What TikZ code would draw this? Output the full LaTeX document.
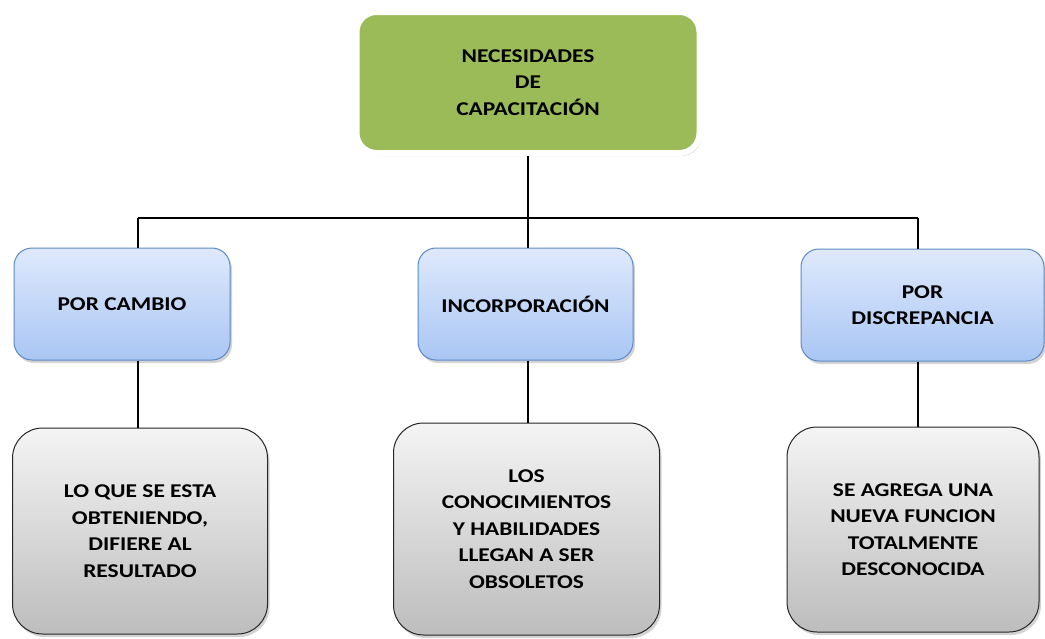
\documentclass[tikz,border=0pt]{standalone}
\usepackage{fontspec}
\setmainfont{Carlito}[FakeStretch=1.2]
\usetikzlibrary{shadows,positioning}

\definecolor{topgreen}{HTML}{9BBB59}
\definecolor{bluetop}{HTML}{DFE9FC}
\definecolor{bluebot}{HTML}{A9C6F4}
\definecolor{blueline}{HTML}{5A8AC6}
\definecolor{greytop}{HTML}{F4F4F4}
\definecolor{greybot}{HTML}{BDBDBD}

\tikzset{
  txt/.style={font=\bfseries\fontsize{19.5}{26.5}\selectfont, align=center, text=black},
  head/.style={txt, rectangle, rounded corners=20pt, fill=topgreen,
    draw=white, line width=6pt, drop shadow={shadow xshift=2pt, shadow yshift=-3pt, opacity=.35}},
  kind/.style={txt, rectangle, rounded corners=18pt, top color=bluetop, bottom color=bluebot,
    draw=blueline, line width=1pt, drop shadow={shadow xshift=2pt, shadow yshift=-3pt, opacity=.35}},
  cause/.style={txt, rectangle, rounded corners=30pt, top color=greytop, bottom color=greybot,
    draw=black!85, line width=1pt, drop shadow={shadow xshift=2pt, shadow yshift=-3pt, opacity=.35}},
  link/.style={draw=black, line width=1.6pt}
}

\begin{document}
\begin{tikzpicture}[x=1pt,y=-1pt]
\useasboundingbox (0,0) rectangle (1045,638);

\node[head, minimum width=343pt, minimum height=141pt] (nec) at (528,82.5) {NECESIDADES\\DE\\CAPACITACIÓN};

\node[kind, minimum width=216pt, minimum height=112pt] (cambio) at (122,304) {POR CAMBIO};
\node[kind, minimum width=215pt, minimum height=112pt] (incorp) at (525.5,304) {INCORPORACIÓN};
\node[kind, minimum width=243pt, minimum height=112pt, anchor=east] (discr) at (1044.5,305) {POR\\DISCREPANCIA};

\node[cause, minimum width=255pt, minimum height=206pt] (obt) at (140,531) {LO QUE SE ESTA\\OBTENIENDO,\\DIFIERE AL\\RESULTADO};
\node[cause, minimum width=266pt, minimum height=212pt] (obs) at (526.5,529) {LOS\\CONOCIMIENTOS\\Y HABILIDADES\\LLEGAN A SER\\OBSOLETOS};
\node[cause, minimum width=252pt, minimum height=205pt] (nueva) at (913,529.5) {SE AGREGA UNA\\NUEVA FUNCION\\TOTALMENTE\\DESCONOCIDA};

\coordinate (bar) at (528,218);
\coordinate (lj) at (138,218);
\coordinate (rj) at (918,218);

\draw[link] (nec.south) -- (bar);
\draw[link] (lj) -- (rj);
\draw[link] (lj) -- (lj |- cambio.north);
\draw[link] (bar) -- (bar |- incorp.north);
\draw[link] (rj) -- (rj |- discr.north);

\draw[link] (lj |- cambio.south) -- (lj |- obt.north);
\draw[link] (bar |- incorp.south) -- (bar |- obs.north);
\draw[link] (rj |- discr.south) -- (rj |- nueva.north);
\end{tikzpicture}
\end{document}
